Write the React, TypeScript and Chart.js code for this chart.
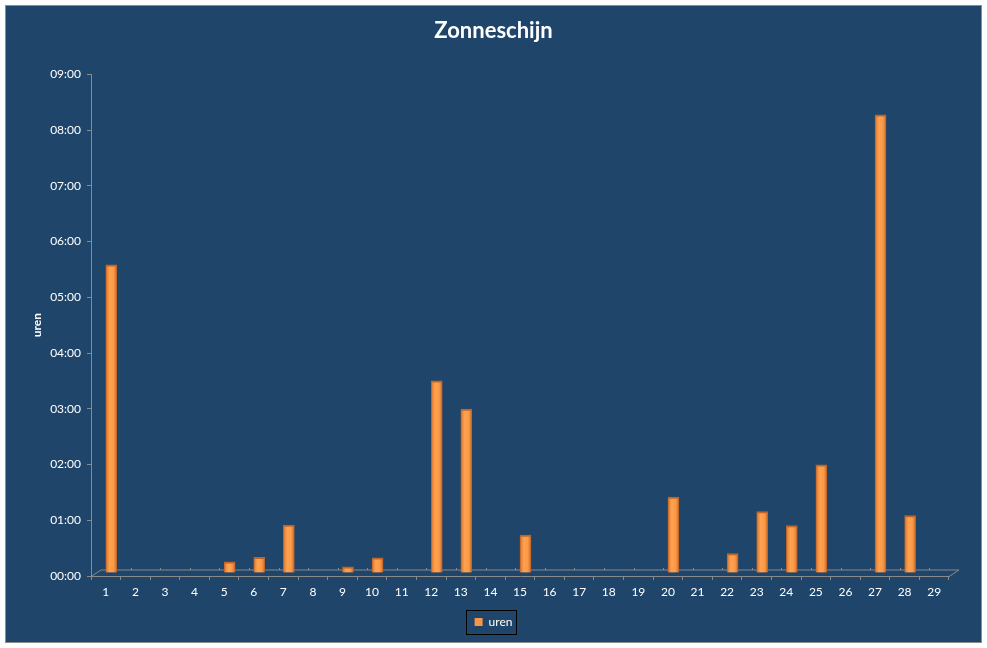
import { useEffect, useRef } from "react"
import { Chart, registerables, type ChartConfiguration, type Plugin } from "chart.js"

Chart.register(...registerables)

// dagen van de maand
const days = Array.from({ length: 29 }, (_, i) => String(i + 1))
// zonneschijn in uren (decimaal), null = geen zon
const uren: (number | null)[] = [
  5.53, null, null, null, 0.2, 0.28, 0.86, null, 0.11, 0.27,
  null, 3.45, 2.94, null, 0.68, null, null, null, null, 1.36,
  null, 0.35, 1.1, 0.85, 1.94, null, 8.22, 1.03, null,
]
const yMin = 0
const yMax = 9

const BG = "#1F456A"
const GRID = "#8A8A8A"
const ORANGE = "#F79646"
const FONT = "Lato, 'Open Sans', sans-serif"

const pad = (n: number) => String(n).padStart(2, "0")
const fmtTime = (v: number) => {
  const h = Math.floor(v)
  const m = Math.round((v - h) * 60)
  return pad(h) + ":" + pad(m)
}

const framePlugin: Plugin = {
  id: "frame",
  beforeDraw(chart) {
    const { ctx, width, height } = chart
    ctx.save()
    ctx.fillStyle = "#FFFFFF"
    ctx.fillRect(0, 0, width, height)
    ctx.fillStyle = BG
    ctx.fillRect(5, 5, 976, 637)
    ctx.strokeStyle = "#8C8C8C"
    ctx.lineWidth = 1
    ctx.strokeRect(5.5, 5.5, 976, 637)
    ctx.restore()
  },
  beforeDatasetsDraw(chart) {
    // achterkant van de 3D-vloer
    const { ctx } = chart
    const xs = chart.scales.x
    const y0 = Math.round(chart.scales.y.getPixelForValue(0)) + 0.5
    const dx = 10
    const dy = 6.5
    ctx.save()
    ctx.strokeStyle = GRID
    ctx.lineWidth = 1
    ctx.beginPath()
    ctx.moveTo(xs.left, y0)
    ctx.lineTo(xs.left + dx, y0 - dy)
    ctx.lineTo(xs.right + dx, y0 - dy)
    ctx.lineTo(xs.right, y0)
    ctx.stroke()
    const step = (xs.right - xs.left) / days.length
    ctx.beginPath()
    for (let i = 1; i < days.length; i++) {
      const x = Math.round(xs.left + dx + i * step) + 0.5
      ctx.moveTo(x, y0 - dy)
      ctx.lineTo(x, y0 - dy - 2)
    }
    ctx.stroke()
    ctx.restore()
    // staven half in de diepte
    ctx.save()
    ctx.translate(5.5, -3)
  },
  afterDatasetsDraw(chart) {
    chart.ctx.restore()
  },
  afterDraw(chart) {
    const box = chart.legend?.legendHitBoxes?.[0]
    if (!box) return
    const { ctx } = chart
    ctx.save()
    ctx.strokeStyle = "#000000"
    ctx.lineWidth = 1
    ctx.strokeRect(
      Math.round(box.left - 9) + 0.5,
      Math.round(box.top - 6) + 0.5,
      Math.round(box.width + 12),
      Math.round(box.height + 12)
    )
    ctx.restore()
  },
}

export default function App() {
  const canvasRef = useRef<HTMLCanvasElement>(null)

  useEffect(() => {
    if (!canvasRef.current) return
    const config: ChartConfiguration<"bar"> = {
      type: "bar",
      data: {
        labels: days,
        datasets: [
          {
            label: "uren",
            data: uren,
            barThickness: 11,
            borderColor: "#C0652A",
            borderWidth: { left: 1, right: 1, top: 2, bottom: 0 },
            borderSkipped: "start",
            backgroundColor: (c) => {
              const chart = c.chart
              const xs = chart.scales.x
              if (!xs || c.dataIndex === undefined) return ORANGE
              const cx = xs.getPixelForValue(c.dataIndex)
              if (!Number.isFinite(cx)) return ORANGE
              const g = chart.ctx.createLinearGradient(cx - 5.5, 0, cx + 5.5, 0)
              g.addColorStop(0, "#D9762E")
              g.addColorStop(0.35, "#FFA24F")
              g.addColorStop(0.7, "#FB9A48")
              g.addColorStop(1, "#D06D28")
              return g
            },
          },
        ],
      },
      options: {
        responsive: false,
        animation: false,
        layout: { padding: { left: 0, right: 0, top: 0, bottom: 10 } },
        plugins: {
          title: {
            display: true,
            text: "Zonneschijn",
            color: "#FFFFFF",
            font: { family: FONT, size: 22, weight: "bold" },
            padding: { top: 18, bottom: 30 },
          },
          legend: {
            position: "bottom",
            labels: {
              color: "#FFFFFF",
              font: { family: FONT, size: 12 },
              boxWidth: 8,
              boxHeight: 8,
              padding: 10,
              generateLabels: (chart) =>
                Chart.defaults.plugins.legend.labels
                  .generateLabels(chart)
                  .map((l) => ({ ...l, fillStyle: ORANGE, strokeStyle: ORANGE, lineWidth: 0 })),
            },
          },
          tooltip: { enabled: false },
        },
        scales: {
          x: {
            grid: {
              display: true,
              drawOnChartArea: false,
              offset: true,
              color: GRID,
              tickLength: 4,
            },
            border: { color: GRID },
            ticks: {
              color: "#FFFFFF",
              font: { family: FONT, size: 12 },
              padding: 5,
              maxRotation: 0,
              autoSkip: false,
            },
            afterFit: (s) => {
              s.height = 30
            },
          },
          y: {
            min: yMin,
            max: yMax,
            grid: {
              display: true,
              drawOnChartArea: false,
              color: GRID,
              tickLength: 4,
            },
            border: { color: GRID },
            ticks: {
              stepSize: 1,
              color: "#FFFFFF",
              font: { family: FONT, size: 12 },
              padding: 6,
              callback: (v) => fmtTime(Number(v)),
            },
            title: {
              display: true,
              text: "uren",
              color: "#FFFFFF",
              font: { family: FONT, size: 12, weight: "bold" },
              padding: { top: 30, bottom: 0 },
            },
            afterFit: (s) => {
              s.width = 91
            },
          },
          // lege rechterkant, houdt titel en legenda gecentreerd
          y2: {
            position: "right",
            display: true,
            grid: { display: false, drawTicks: false },
            border: { display: false },
            ticks: { display: false },
            afterFit: (s) => {
              s.width = 38
            },
          },
        },
      },
      plugins: [framePlugin],
    }
    const chart = new Chart(canvasRef.current, config)
    return () => chart.destroy()
  }, [])

  return (
    <div style={{ position: "absolute", left: 0, top: 0, width: 987, height: 648 }}>
      <canvas ref={canvasRef} width={987} height={648} style={{ display: "block" }} />
    </div>
  )
}
